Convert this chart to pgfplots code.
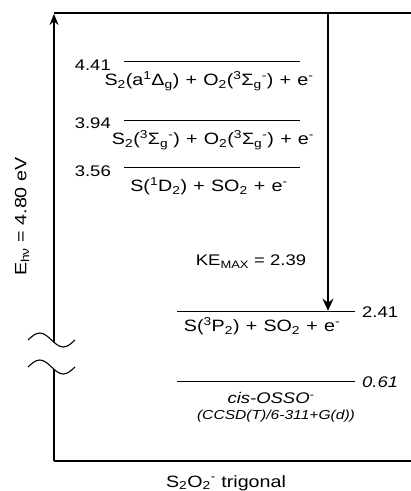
\documentclass[border=0pt]{standalone}
\usepackage{fontspec}
\setmainfont{Liberation Sans}[FakeStretch=1.2]
\usepackage{pgfplots}
\pgfplotsset{compat=1.18}
\usetikzlibrary{arrows.meta}

\newcommand{\sub}[1]{\textsubscript{#1}}
\newcommand{\spr}[1]{\textsuperscript{#1}}
\newcommand{\pl}{\hspace{0.38em}+\hspace{0.38em}}
\tikzset{
  lab/.style={font=\fontsize{16.4}{19}\selectfont, inner sep=0pt},
  ke/.style={font=\fontsize{15.4}{18}\selectfont, inner sep=0pt},
  ital/.style={font=\fontsize{15.4}{18}\selectfont\itshape, inner sep=0pt},
  tiny/.style={font=\fontsize{13}{15}\selectfont\itshape, inner sep=0pt},
}

\begin{document}
\begin{tikzpicture}
\begin{axis}[
  width=411pt, height=491pt, scale only axis,
  xmin=0, xmax=411, ymin=0.976, ymax=4.904,
  hide axis, clip=false,
]
\coordinate (bl) at (axis cs:0,0.976);
\coordinate (tr) at (axis cs:411,4.904);

% frame and energy axis (y in eV; the lowest level sits below a break)
\addplot[black, line width=1.3pt] coordinates {(54,4.80) (411,4.80)};
\addplot[black, line width=1.3pt] coordinates {(54,1.216) (411,1.216)};
\addplot[black, line width=1.3pt, -{Stealth[length=11pt,width=9pt]}] coordinates {(54,2.166) (54,4.792)};
\addplot[black, line width=1.3pt] coordinates {(54,1.216) (54,1.950)};
\addplot[black, line width=1.3pt, -{Stealth[length=12pt,width=11pt]}] coordinates {(328,4.80) (328,2.418)};

% break marks
\draw[line width=1.1pt] (axis cs:28,2.184) sin (axis cs:39.75,2.240) cos (axis cs:51.5,2.184) sin (axis cs:63.25,2.128) cos (axis cs:75,2.184);
\draw[line width=1.1pt] (axis cs:28,1.968) sin (axis cs:39.75,2.024) cos (axis cs:51.5,1.968) sin (axis cs:63.25,1.912) cos (axis cs:75,1.968);

% levels
\addplot[black, line width=1pt] coordinates {(124,4.41) (300,4.41)};
\addplot[black, line width=1pt] coordinates {(124,3.94) (300,3.94)};
\addplot[black, line width=1pt] coordinates {(124,3.56) (300,3.56)};
\addplot[black, line width=1pt] coordinates {(177,2.41) (355,2.41)};
\addplot[black, line width=1pt] coordinates {(177,1.848) (355,1.848)};

% level labels
\node[ke, anchor=east, yshift=-3pt] at (axis cs:111,4.41) {4.41};
\node[ke, anchor=east, yshift=-3pt] at (axis cs:111,3.94) {3.94};
\node[ke, anchor=east, yshift=-3pt] at (axis cs:111,3.56) {3.56};
\node[ke, anchor=west] at (axis cs:362,2.41) {2.41};
\node[ital, anchor=west] at (axis cs:362,1.848) {0.61};

\node[lab, anchor=base, yshift=-24pt] at (axis cs:209,4.41)
  {S\sub{2}(a\spr{1}Δ\sub{g})\pl O\sub{2}(\spr{3}Σ\sub{g}\spr{-})\pl e\spr{-}};
\node[lab, anchor=base, yshift=-24pt] at (axis cs:213,3.94)
  {S\sub{2}(\spr{3}Σ\sub{g}\spr{-})\pl O\sub{2}(\spr{3}Σ\sub{g}\spr{-})\pl e\spr{-}};
\node[lab, anchor=base, yshift=-24pt] at (axis cs:209,3.56)
  {S(\spr{1}D\sub{2})\pl SO\sub{2}\pl e\spr{-}};
\node[lab, anchor=base, yshift=-20pt] at (axis cs:262,2.41)
  {S(\spr{3}P\sub{2})\pl SO\sub{2}\pl e\spr{-}};
\node[ital, anchor=base, yshift=-22pt] at (axis cs:271,1.848) {cis-OSSO\spr{-}};
\node[tiny, anchor=base, yshift=-38pt] at (axis cs:276,1.848) {(CCSD(T)/6-311+G(d))};

\node[ke, anchor=base] at (axis cs:251,2.776) {KE\sub{MAX} = 2.39};
\node[lab, rotate=90] at (axis cs:22,3.17) {E\sub{hν} = 4.80 eV};
\node[lab, anchor=base] at (axis cs:226,1.008) {S\sub{2}O\sub{2}\spr{-} trigonal};
\end{axis}
\pgfresetboundingbox
\path[use as bounding box] (bl) rectangle (tr);
\end{tikzpicture}
\end{document}
